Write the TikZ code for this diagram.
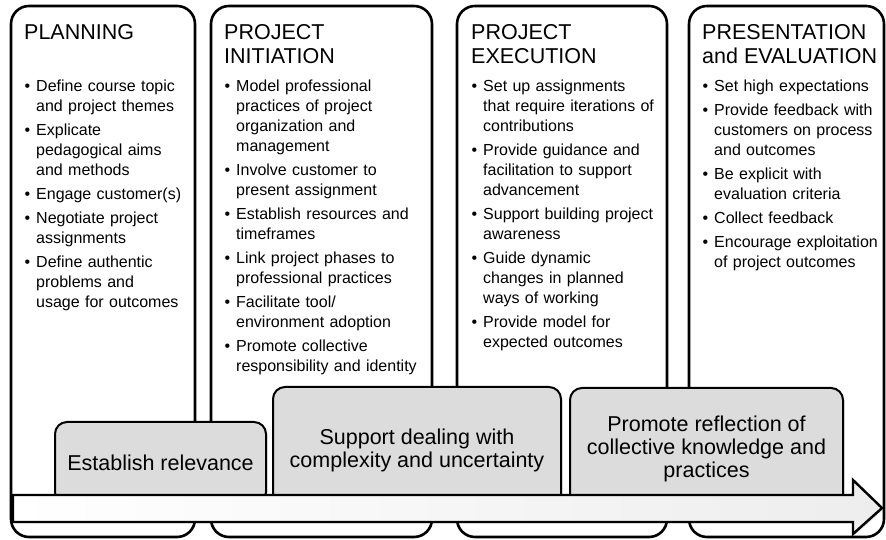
\documentclass[tikz,border=0pt]{standalone}
\usepackage{fontspec}
\setmainfont{Liberation Sans}
\usetikzlibrary{positioning,shadows}

\definecolor{stagegrey}{HTML}{DCDCDC}

% bullet list used inside the phase columns
\newenvironment{tasks}{%
  \begin{list}{\textbullet}{%
    \setlength{\leftmargin}{12pt}%
    \setlength{\labelsep}{6pt}%
    \setlength{\labelwidth}{6pt}%
    \setlength{\itemsep}{4pt}%
    \setlength{\parsep}{0pt}%
    \setlength{\topsep}{0pt}%
    \setlength{\partopsep}{0pt}}}%
  {\end{list}}

\begin{document}
\begin{tikzpicture}[x=1pt,y=1pt]
    \tikzset{
    phase/.style={draw, line width=2.6pt, rounded corners=18pt, fill=white, outer sep=0pt},
    stage/.style={draw, line width=2pt, rounded corners=12pt, fill=stagegrey, outer sep=0pt,
        align=center, font=\fontsize{21.5}{23}\selectfont,
        drop shadow={opacity=0.2, shadow xshift=1.5pt, shadow yshift=-1.5pt}},
    head/.style={inner sep=0pt, anchor=north west, align=left, font=\fontsize{21.5}{24}\selectfont},
    todo/.style={inner sep=0pt, anchor=north west, text width=200pt, align=left, font=\fontsize{16}{20}\selectfont},
    flow/.style={line width=2.4pt, left color=white, right color=gray!14,
        drop shadow={opacity=0.25, shadow xshift=1.5pt, shadow yshift=-1.5pt}},
    }
    \useasboundingbox (0,0) rectangle (886,540);

    % the four phase columns
    \node[phase, minimum width=184pt, minimum height=531pt] (plan) at (103,268.5) {};
    \node[phase, minimum width=221pt, minimum height=531pt] (init) at (321.5,268.5) {};
    \node[phase, minimum width=210pt, minimum height=531pt] (exec) at (562,268.5) {};
    \node[phase, minimum width=195pt, minimum height=531pt] (pres) at (786.5,268.5) {};

    \node[head, below right=18pt and 13pt of plan.north west] (planT) {PLANNING};
    \node[head, below right=18pt and 13pt of init.north west] (initT) {PROJECT\\INITIATION};
    \node[head, below right=18pt and 14pt of exec.north west] (execT) {PROJECT\\EXECUTION};
    \node[head, below right=18pt and 13pt of pres.north west] (presT) {PRESENTATION\\and EVALUATION};

    \node[todo, below right=65pt and 13pt of plan.north west] (planL) {%
    \begin{tasks}
    \item Define course topic\newline and project themes
    \item Explicate\newline pedagogical aims\newline and methods
    \item Engage customer(s)
    \item Negotiate project\newline assignments
    \item Define authentic\newline problems and\newline usage for outcomes
    \end{tasks}};
    \node[todo, below right=65pt and 13pt of init.north west] (initL) {%
    \begin{tasks}
    \item Model professional\newline practices of project\newline organization and\newline management
    \item Involve customer to\newline present assignment
    \item Establish resources and\newline timeframes
    \item Link project phases to\newline professional practices
    \item Facilitate tool/\newline environment adoption
    \item Promote collective\newline responsibility and identity
    \end{tasks}};
    \node[todo, below right=65pt and 14pt of exec.north west] (execL) {%
    \begin{tasks}
    \item Set up assignments\newline that require iterations of\newline contributions
    \item Provide guidance and\newline facilitation to support\newline advancement
    \item Support building project\newline awareness
    \item Guide dynamic\newline changes in planned\newline ways of working
    \item Provide model for\newline expected outcomes
    \end{tasks}};
    \node[todo, below right=65pt and 13pt of pres.north west] (presL) {%
    \begin{tasks}
    \item Set high expectations
    \item Provide feedback with\newline customers on process\newline and outcomes
    \item Be explicit with\newline evaluation criteria
    \item Collect feedback
    \item Encourage exploitation\newline of project outcomes
    \end{tasks}};

    % overarching teacher roles
    \node[stage, minimum width=211pt, minimum height=82pt] (rel) at (160.5,77) {Establish relevance};
    \node[stage, minimum width=288pt, minimum height=126pt] (cplx) at (417,90) {Support dealing with\\complexity and uncertainty};
    \node[stage, minimum width=273pt, minimum height=122pt] (refl) at (706.5,91) {Promote reflection of\\collective knowledge and\\practices};

    % time line
    \draw[flow] (13,45) -- (853,45) -- (853,60) -- (882,32) -- (853,6) -- (853,18) -- (13,18) -- cycle;
\end{tikzpicture}
\end{document}
